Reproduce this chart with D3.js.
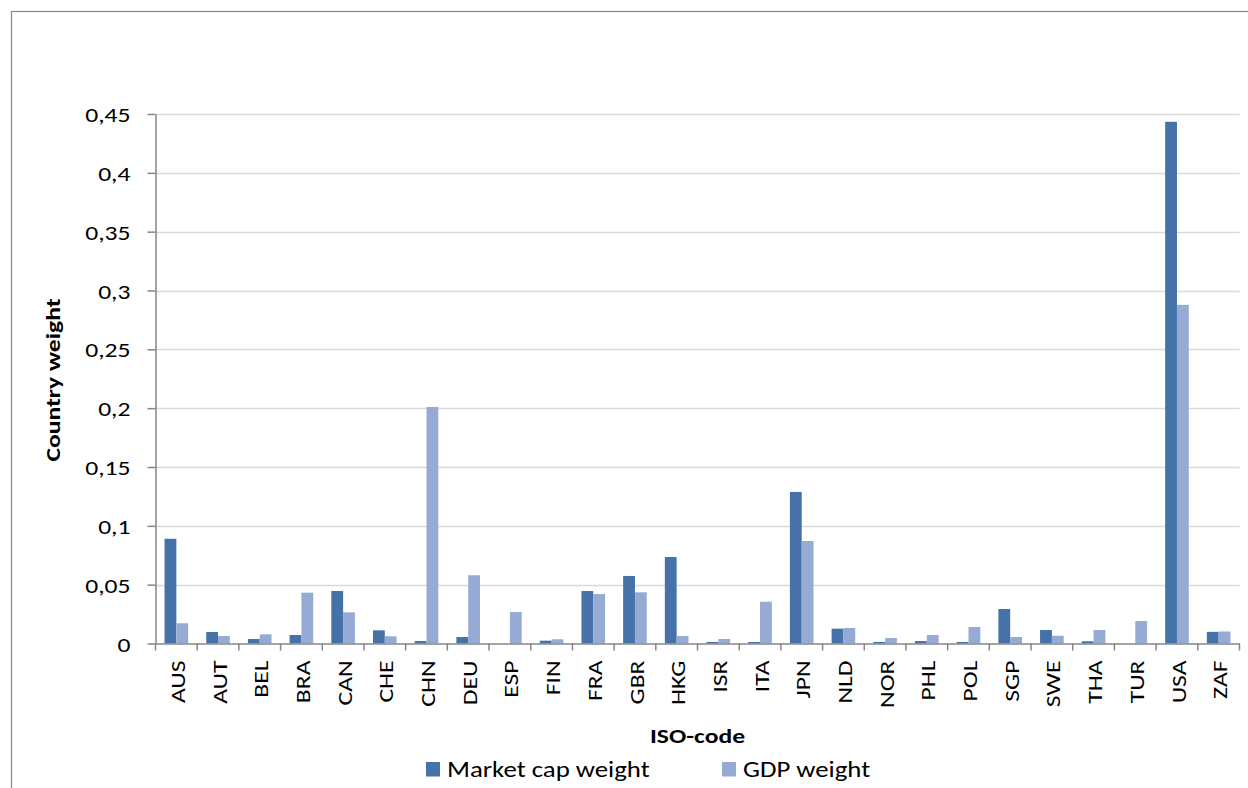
<!DOCTYPE html>
<html><head><meta charset="utf-8">
<script src="https://cdn.jsdelivr.net/npm/d3@7/dist/d3.min.js"></script>
<style>body{margin:0;background:#fff}svg{display:block}text{font-family:Carlito,Calibri,Lato,"Open Sans",sans-serif;fill:#000}</style>
</head><body><svg id="c" width="1248" height="788"></svg>
<script>
const categories = ["AUS","AUT","BEL","BRA","CAN","CHE","CHN","DEU","ESP","FIN","FRA","GBR","HKG","ISR","ITA","JPN","NLD","NOR","PHL","POL","SGP","SWE","THA","TUR","USA","ZAF"];
const seriesNames = ["Market cap weight","GDP weight"];
const marketCap = [0.089,0.0098,0.0038,0.0072,0.0446,0.0112,0.0021,0.0055,0.0,0.0024,0.0446,0.0574,0.0735,0.0013,0.0013,0.1288,0.0126,0.0013,0.0021,0.0013,0.0293,0.0115,0.0019,0.0,0.4434,0.0099];
const gdp = [0.0172,0.0064,0.0078,0.0432,0.0265,0.0061,0.201,0.058,0.0268,0.0036,0.042,0.0435,0.0064,0.0038,0.0355,0.0871,0.0132,0.0047,0.0072,0.014,0.0055,0.0066,0.0115,0.0191,0.2878,0.0102];
const yTicks = [0,0.05,0.1,0.15,0.2,0.25,0.3,0.35,0.4,0.45];
const colors = ["#4573a7","#96abd4"];

const SX = 1.22; // horizontal text stretch to match reference glyph proportions
const svg = d3.select("#c");
const L = 155.5, R = 1239.5, T = 114, B = 643.5;
const loc = d3.formatLocale({decimal:",",thousands:".",grouping:[3],currency:["","€"]});
const fmt = loc.format(".2~f");

svg.append("rect").attr("x",11.5).attr("y",11.5).attr("width",1400).attr("height",1000)
  .attr("fill","none").attr("stroke","#898989").attr("stroke-width",1.2);

const y = d3.scaleLinear().domain([0,0.45]).range([B,T]);
const x0 = d3.scaleBand().domain(categories).range([L,R]).padding(0);
const x1 = d3.scaleBand().domain(seriesNames).range([0,x0.bandwidth()]).paddingInner(0).paddingOuter(0.765);

// gridlines
svg.append("g").selectAll("line").data(yTicks.filter(d=>d>0)).join("line")
  .attr("x1",L).attr("x2",R).attr("y1",d=>Math.round(y(d))+0.5).attr("y2",d=>Math.round(y(d))+0.5)
  .attr("stroke","#d9d9d9").attr("stroke-width",1.5);

// bars
const data = categories.map((c,i)=>({c, v:[marketCap[i],gdp[i]]}));
const g = svg.append("g").selectAll("g").data(data).join("g").attr("transform",d=>`translate(${x0(d.c)},0)`);
g.selectAll("rect").data(d=>d.v.map((v,j)=>({s:seriesNames[j],v,j}))).join("rect")
  .attr("x",d=>x1(d.s)).attr("width",x1.bandwidth())
  .attr("y",d=>y(d.v)).attr("height",d=>B-y(d.v))
  .attr("fill",d=>colors[d.j]);

// y axis
const ya = svg.append("g").attr("transform",`translate(${L},0)`)
  .call(d3.axisLeft(y).tickValues(yTicks).tickFormat(fmt).tickSize(8).tickSizeOuter(0).tickPadding(17));
ya.select(".domain").attr("stroke","#868686").attr("stroke-width",1.5);
ya.selectAll(".tick line").attr("stroke","#868686").attr("stroke-width",1.5);
ya.selectAll(".tick text").style("font-size","21px").attr("fill","#000").attr("dy","0.36em")
  .attr("x",0).attr("transform",`translate(-25,0) scale(${SX},1)`);

// x axis
const xa = svg.append("g").attr("transform",`translate(0,${B})`)
  .call(d3.axisBottom(x0).tickSize(0).tickSizeOuter(0));
xa.select(".domain").attr("stroke","#868686").attr("stroke-width",1.5);
xa.selectAll(".tick text").attr("transform",`rotate(-90) scale(${SX},1)`).attr("text-anchor","end")
  .attr("x",-17/SX).attr("y",1).attr("dy","0.36em").style("font-size","21px").attr("fill","#000");
svg.append("g").selectAll("line").data(d3.range(categories.length+1)).join("line")
  .attr("x1",i=>L+i*x0.step()).attr("x2",i=>L+i*x0.step()).attr("y1",B).attr("y2",B+7)
  .attr("stroke","#868686").attr("stroke-width",1.5);

// titles
svg.append("text").attr("transform",`translate(59.5,380) rotate(-90) scale(${SX},1)`).attr("text-anchor","middle")
  .style("font-size","21px").style("font-weight","bold").text("Country weight");
svg.append("text").attr("transform",`translate(${(L+R)/2},743) scale(${SX},1)`).attr("text-anchor","middle")
  .style("font-size","21px").style("font-weight","bold").text("ISO-code");

// legend
const legX = [426,722];
const lg = svg.append("g").selectAll("g").data(seriesNames).join("g").attr("transform",(d,i)=>`translate(${legX[i]},762)`);
lg.append("rect").attr("width",14).attr("height",14.5).attr("fill",(d,i)=>colors[i]);
lg.append("text").attr("transform",`translate(21,15) scale(${SX},1)`).style("font-size","22px").text(d=>d);
</script></body></html>
